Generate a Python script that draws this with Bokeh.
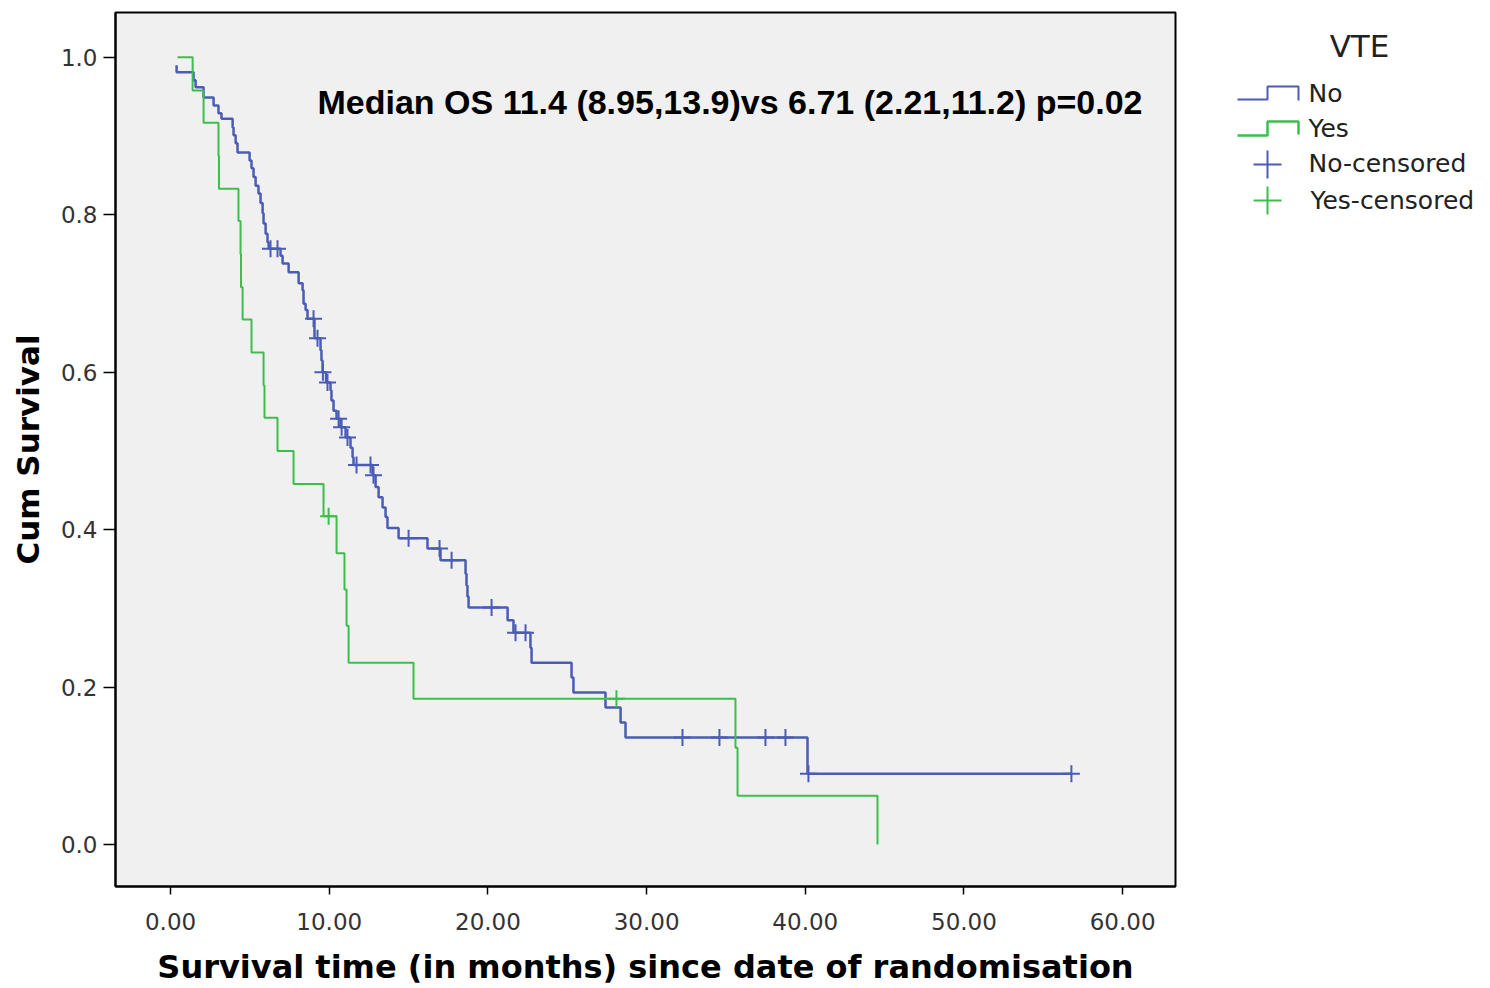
from bokeh.plotting import figure
from bokeh.models import Range1d, FixedTicker, CustomJSTickFormatter, Label
from bokeh.layouts import row
from bokeh.core.properties import value
from bokeh.embed import file_html
from bokeh.resources import INLINE

# ---- data ----
no_time = [0.38, 0.38, 1.45, 1.58, 2.08, 2.71, 3.02, 3.21, 3.91, 3.97, 4.10, 4.22,
           4.98, 5.10, 5.23, 5.36, 5.54, 5.67, 5.80, 5.86, 5.99, 6.11, 6.18,
           6.93, 7.06, 7.44, 8.07, 8.32, 8.38, 8.51, 8.63,
           9.07, 9.45, 9.51, 9.58, 9.80,
           10.08, 10.14, 10.27, 10.46, 10.71, 11.03,
           11.34, 11.47, 11.53,
           12.73, 12.92, 13.11, 13.36, 13.55, 13.67, 14.37,
           16.19, 17.01,
           18.59, 18.65, 18.71, 18.78,
           21.24, 21.61, 22.68, 22.75,
           25.27, 25.39, 27.41, 28.36, 28.67,
           40.14, 56.77]
no_surv = [0.990, 0.981, 0.971, 0.962, 0.949, 0.939, 0.929, 0.922, 0.911, 0.901, 0.891, 0.879,
           0.869, 0.859, 0.848, 0.837, 0.827, 0.815, 0.802, 0.789, 0.776, 0.765, 0.757,
           0.748, 0.738, 0.727, 0.713, 0.704, 0.687, 0.679, 0.668,
           0.643, 0.628, 0.615, 0.600, 0.587,
           0.577, 0.564, 0.551, 0.541, 0.530, 0.517,
           0.504, 0.492, 0.482,
           0.469, 0.454, 0.441, 0.428, 0.416, 0.402, 0.389,
           0.376, 0.361,
           0.344, 0.329, 0.315, 0.301,
           0.285, 0.269, 0.250, 0.231,
           0.212, 0.193, 0.174, 0.155, 0.136,
           0.090, 0.090]
no_cens_time = [6.30, 6.74, 9.01, 9.26, 9.60, 9.89, 10.59, 10.78, 11.15, 11.72, 12.60, 12.79,
                15.00, 16.95, 17.71, 20.23, 21.74, 22.37, 32.26, 34.59, 37.49, 38.75, 40.20, 56.77]
no_cens_surv = [0.757, 0.757, 0.668, 0.643, 0.600, 0.587, 0.541, 0.530, 0.517, 0.482, 0.482, 0.469,
                0.389, 0.376, 0.361, 0.301, 0.269, 0.269, 0.136, 0.136, 0.136, 0.136, 0.090, 0.090]

yes_time = [0.44, 1.39, 2.08, 3.02, 3.05, 4.28, 4.41, 4.44, 4.54, 5.10, 5.86, 5.92,
            6.74, 7.75, 9.64, 10.46, 10.96, 11.09, 11.22, 15.31, 35.60, 35.73, 44.55]
yes_surv = [1.0, 0.958, 0.917, 0.875, 0.833, 0.792, 0.750, 0.708, 0.667, 0.625, 0.583, 0.542,
            0.500, 0.458, 0.417, 0.370, 0.324, 0.278, 0.231, 0.185, 0.123, 0.062, 0.0]
yes_cens_time = [9.96, 28.10]
yes_cens_surv = [0.417, 0.185]

x_ticks = [0, 10, 20, 30, 40, 50, 60]
y_ticks = [0.0, 0.2, 0.4, 0.6, 0.8, 1.0]
annotation = "Median OS 11.4 (8.95,13.9)vs 6.71 (2.21,11.2) p=0.02"
legend_title = "VTE"
legend_labels = ["No", "Yes", "No-censored", "Yes-censored"]

BLUE = "#4a5cb6"
GREEN = "#3dbe4c"

p = figure(width=1190, height=988, output_backend="svg", toolbar_location=None,
           x_range=Range1d(-3.47, 63.33), y_range=Range1d(-0.0534, 1.057),
           min_border_left=115, min_border_right=15, min_border_top=12, min_border_bottom=102)
p.background_fill_color = "#f0f0f0"
p.border_fill_color = "white"
p.outline_line_color = "black"
p.outline_line_width = 2
p.xgrid.visible = False
p.ygrid.visible = False

p.step(no_time, no_surv, mode="after", line_color=BLUE, line_width=2.5)
p.step(yes_time, yes_surv, mode="after", line_color=GREEN, line_width=2)
p.scatter(no_cens_time, no_cens_surv, marker="cross", size=17, line_color=BLUE, line_width=2)
p.scatter(yes_cens_time, yes_cens_surv, marker="cross", size=17, line_color=GREEN, line_width=2)

p.xaxis.ticker = FixedTicker(ticks=x_ticks)
p.yaxis.ticker = FixedTicker(ticks=y_ticks)
p.xaxis.formatter = CustomJSTickFormatter(code="return tick.toFixed(2);")
p.yaxis.formatter = CustomJSTickFormatter(code="return tick.toFixed(1);")
for ax in (p.xaxis[0], p.yaxis[0]):
    ax.axis_line_color = "black"
    ax.axis_line_width = 2
    ax.major_tick_line_color = "black"
    ax.major_tick_line_width = 1.5
    ax.major_tick_in = 0
    ax.minor_tick_line_color = None
    ax.major_label_text_font = "DejaVu Sans"
    ax.major_label_text_font_size = "23px"
    ax.major_label_text_color = "#333333"
    ax.axis_label_text_font = "DejaVu Sans"
    ax.axis_label_text_font_style = "bold"
    ax.axis_label_text_color = "black"
p.xaxis.axis_label_text_font_size = "32px"
p.yaxis.axis_label_text_font_size = "31px"
p.xaxis.major_tick_out = 8
p.xaxis.major_label_standoff = 18
p.xaxis.axis_label_standoff = 15
p.yaxis.major_tick_out = 12
p.yaxis.major_label_standoff = 6
p.yaxis.axis_label_standoff = 12
p.xaxis.axis_label = "Survival time (in months) since date of randomisation"
p.yaxis.axis_label = "Cum Survival"

p.add_layout(Label(x=9.26, y=0.943, text=annotation, text_font="Liberation Sans",
                   text_font_style="bold", text_font_size="34px", text_color="black",
                   text_align="left", text_baseline="middle"))

# ---- legend panel (frame aligned with main plot frame: rows 12..886) ----
lg = figure(width=300, height=988, output_backend="svg", toolbar_location=None,
            x_range=Range1d(1190, 1490), y_range=Range1d(886, 12),
            min_border_left=0, min_border_right=0, min_border_top=12, min_border_bottom=102,
            x_axis_type=None, y_axis_type=None)
lg.outline_line_color = None
lg.background_fill_color = "white"
lg.border_fill_color = "white"
lg.xgrid.visible = False
lg.ygrid.visible = False

lg.text([1359], [45], text=[legend_title], text_font=value("DejaVu Sans"),
        text_font_size=value("31px"), text_color="#222222", text_align="center",
        text_baseline="middle")
lg.line([1237, 1267, 1267, 1298, 1298], [99, 99, 86, 86, 100], line_color=BLUE, line_width=2)
lg.line([1237, 1267, 1267, 1298, 1298], [135, 135, 121, 121, 134], line_color=GREEN, line_width=2.5)
lg.scatter([1267], [164], marker="cross", size=28, line_color=BLUE, line_width=2)
lg.scatter([1267], [200], marker="cross", size=28, line_color=GREEN, line_width=2)
lg.text([1308, 1308, 1308, 1310], [93, 128, 163, 200], text=legend_labels,
        text_font=value("DejaVu Sans"), text_font_size=value("25px"), text_color="#222222",
        text_align="left", text_baseline="middle")

layout = row(p, lg)
open("out.html", "w").write(file_html(layout, INLINE))
